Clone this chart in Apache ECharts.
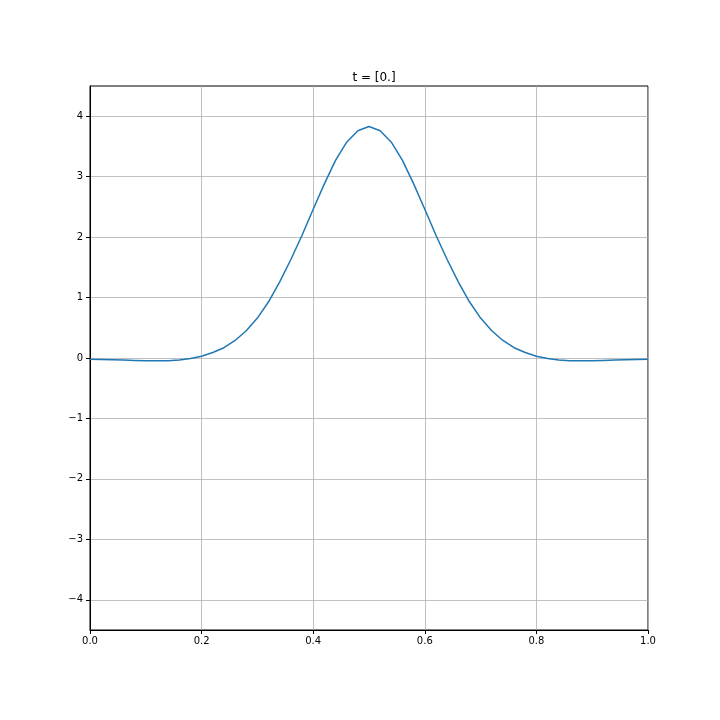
<!DOCTYPE html>
<html>
<head>
<meta charset="utf-8">
<script src="https://cdn.jsdelivr.net/npm/echarts@6/dist/echarts.min.js"></script>
<style>html,body{margin:0;padding:0;background:#fff}#c{width:720px;height:720px}</style>
</head>
<body>
<div id="c"></div>
<script>
const title = 't = [0.]';
const xValues = [0.00,0.02,0.04,0.06,0.08,0.10,0.12,0.14,0.16,0.18,0.20,0.22,0.24,0.26,0.28,0.30,0.32,0.34,0.36,0.38,0.40,0.42,0.44,0.46,0.48,0.50,
  0.52,0.54,0.56,0.58,0.60,0.62,0.64,0.66,0.68,0.70,0.72,0.74,0.76,0.78,0.80,0.82,0.84,0.86,0.88,0.90,0.92,0.94,0.96,0.98,1.00];
const yValues = [-0.02,-0.025,-0.03,-0.035,-0.04,-0.045,-0.045,-0.045,-0.035,-0.01,0.03,0.09,0.17,0.29,0.45,0.66,0.93,1.26,1.63,2.03,2.46,2.88,3.27,3.57,3.76,3.83,
  3.76,3.57,3.27,2.88,2.46,2.03,1.63,1.26,0.93,0.66,0.45,0.29,0.17,0.09,0.03,-0.01,-0.035,-0.045,-0.045,-0.045,-0.04,-0.035,-0.03,-0.025,-0.02];
const yTicks = [-4,-3,-2,-1,0,1,2,3,4];

const font = 'DejaVu Sans';
const chart = echarts.init(document.getElementById('c'));
chart.setOption({
  animation: false,
  backgroundColor: '#fff',
  title: {
    text: title, left: 369, top: 67, textAlign: 'center',
    textStyle: {fontFamily: font, fontSize: 12, fontWeight: 'normal', color: '#000'}
  },
  grid: {left: 90, right: 72, top: 86, bottom: 90, show: true, borderColor: '#000', borderWidth: 1, backgroundColor: 'transparent'},
  xAxis: {
    type: 'value', min: 0, max: 1, interval: 0.2,
    axisLine: {show: true, onZero: false, lineStyle: {color: '#000', width: 1}},
    axisTick: {show: true, inside: false, length: 4, lineStyle: {color: '#000'}},
    axisLabel: {fontFamily: font, fontSize: 10, color: '#000', margin: 6, formatter: v => v.toFixed(1), showMinLabel: true, showMaxLabel: true},
    splitLine: {show: true, lineStyle: {color: '#b0b0b0', width: 0.8}}
  },
  yAxis: {
    type: 'value', min: -4.5, max: 4.5,
    axisLine: {show: true, onZero: false, lineStyle: {color: '#000', width: 1}},
    axisTick: {show: true, inside: false, length: 4, lineStyle: {color: '#000'}, customValues: yTicks},
    axisLabel: {fontFamily: font, fontSize: 10, color: '#000', margin: 7, customValues: yTicks,
      formatter: v => (v < 0 ? '\u2212' + Math.abs(v) : String(v))},
    splitLine: {show: true, lineStyle: {color: '#b0b0b0', width: 0.8}}
  },
  series: [{
    type: 'line',
    data: xValues.map((x, i) => [x, yValues[i]]),
    showSymbol: false,
    lineStyle: {color: '#1f77b4', width: 1.5},
    itemStyle: {color: '#1f77b4'}
  }]
});
</script>
</body>
</html>
